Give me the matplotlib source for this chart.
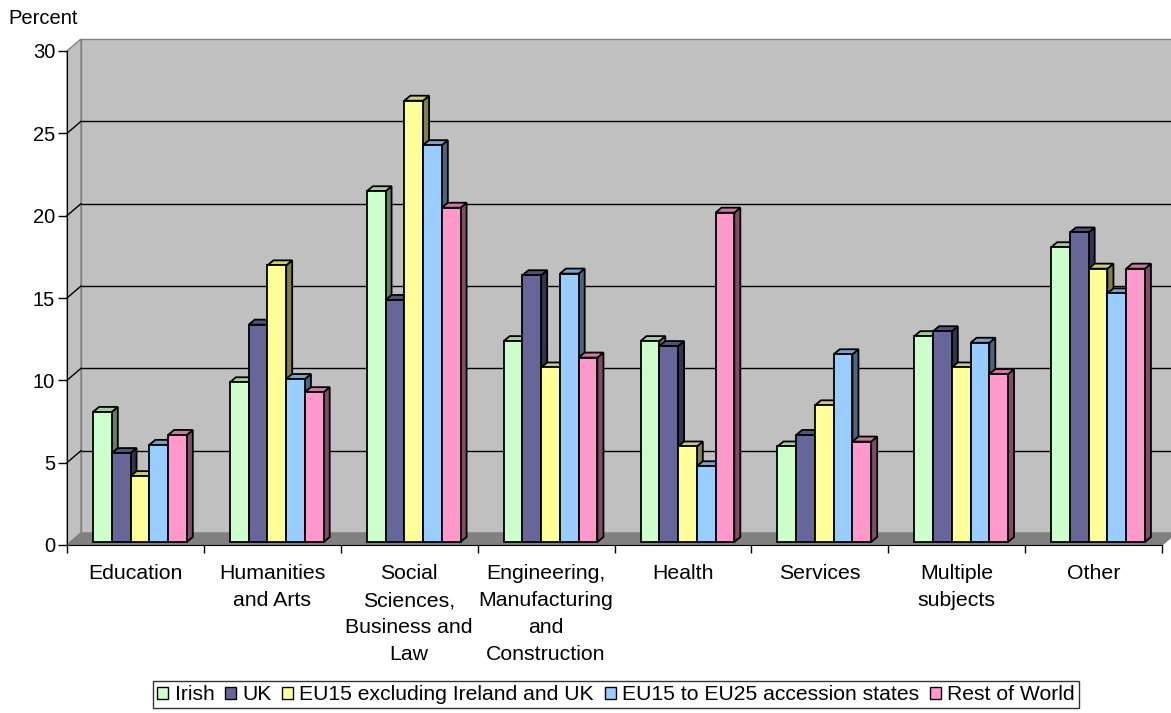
import matplotlib.pyplot as plt
from matplotlib.patches import Polygon, Patch
from matplotlib.colors import to_rgb
import numpy as np

plt.rcParams['font.family'] = ['Liberation Sans', 'DejaVu Sans']

categories = ["Education", "Humanities\nand Arts", "Social\nSciences,\nBusiness and\nLaw",
              "Engineering,\nManufacturing\nand\nConstruction", "Health", "Services",
              "Multiple\nsubjects", "Other"]
series = ["Irish", "UK", "EU15 excluding Ireland and UK",
          "EU15 to EU25 accession states", "Rest of World"]
irish = [7.9, 9.7, 21.3, 12.2, 12.2, 5.8, 12.5, 17.9]
uk = [5.4, 13.2, 14.7, 16.2, 11.9, 6.5, 12.8, 18.8]
eu15 = [4.0, 16.8, 26.8, 10.6, 5.8, 8.3, 10.6, 16.6]
accession = [5.9, 9.9, 24.1, 16.3, 4.6, 11.4, 12.1, 15.1]
rest = [6.5, 9.1, 20.3, 11.2, 20.0, 6.1, 10.2, 16.6]
colors = ["#CCFFCC", "#666699", "#FFFF99", "#99CCFF", "#FF99CC"]
values = [irish, uk, eu15, accession, rest]

W, H = 1171, 713
fig = plt.figure(figsize=(W / 100, H / 100), dpi=100)
L, R, T, B = 67, 1162, 51, 545
ax = fig.add_axes([L / W, 1 - B / H, (R - L) / W, (B - T) / H])
ax.set_xlim(-0.5, 7.5)
ax.set_ylim(0, 30)

# pixel -> data unit factors
kx = 8 / (R - L)
ky = 30 / (B - T)

# wall depth (full), bar offset and bar depth, in pixels
wdx, wdy = 14, 12
fdx, fdy = 4.5, 3
bdx, bdy = 6, 5


def poly(pts, fc, ec, z, lw=1.0):
    p = Polygon(pts, closed=True, facecolor=fc, edgecolor=ec, lw=lw,
                zorder=z, clip_on=False, joinstyle='miter')
    ax.add_patch(p)


ox, oy = wdx * kx, wdy * ky
# back wall, side wall and floor
poly([(-0.5 + ox, oy), (7.5 + ox, oy), (7.5 + ox, 30 + oy), (-0.5 + ox, 30 + oy)],
     "#C0C0C0", "#808080", 1)
poly([(-0.5, 0), (-0.5 + ox, oy), (-0.5 + ox, 30 + oy), (-0.5, 30)],
     "#C0C0C0", "#808080", 1)
poly([(-0.5, 0), (7.5, 0), (7.5 + ox, oy), (-0.5 + ox, oy)],
     "#808080", "#808080", 1.1)

# gridlines on the back and side walls
for v in range(5, 30, 5):
    ax.plot([-0.5 + ox, 7.5 + ox], [v + oy, v + oy], color="black", lw=1,
            zorder=2, clip_on=False, solid_capstyle='butt')
    ax.plot([-0.5, -0.5 + ox], [v, v + oy], color="black", lw=1,
            zorder=2, clip_on=False)

# 3D bars
bw = 0.137
n = len(series)
x = np.arange(len(categories))
for i in x:
    for j in range(n):
        v = values[j][i]
        base = np.array(to_rgb(colors[j]))
        x0 = i - n * bw / 2 + j * bw + fdx * kx
        x1 = x0 + bw
        y0 = fdy * ky
        y1 = y0 + v
        ddx, ddy = bdx * kx, bdy * ky
        z = 3 + i * 0.1 + j * 0.01
        poly([(x1, y0), (x1 + ddx, y0 + ddy), (x1 + ddx, y1 + ddy), (x1, y1)],
             base * 0.5, "black", z, 1.3)
        poly([(x0, y1), (x1, y1), (x1 + ddx, y1 + ddy), (x0 + ddx, y1 + ddy)],
             base * 0.8, "black", z, 1.3)
        poly([(x0, y0), (x1, y0), (x1, y1), (x0, y1)],
             base, "black", z + 0.005, 1.3)

# axes
for s in ["top", "right"]:
    ax.spines[s].set_visible(False)
ax.spines["left"].set_color("black")
ax.spines["bottom"].set_color("black")
ax.spines["left"].set_zorder(10)
ax.spines["bottom"].set_zorder(10)
ax.patch.set_visible(False)

ax.set_yticks(range(0, 31, 5))
ax.tick_params(axis="y", length=6.5, width=1, pad=2, labelsize=14.5)
ax.set_xticks(x)
ax.set_xticklabels(categories, fontsize=15.3, linespacing=1.52)
ax.set_xticks(np.arange(-0.5, 8, 1), minor=True)
ax.tick_params(axis="x", which="major", length=0, pad=14)
ax.tick_params(axis="x", which="minor", length=6, width=1)

fig.text(8 / W, 1 - 18 / H, "Percent", ha="left", va="center", fontsize=14.5)

handles = [Patch(facecolor=c, edgecolor="black", lw=1) for c in colors]
leg = fig.legend(handles, series, loc="upper center", bbox_to_anchor=(0.526, 1 - 681 / H),
                 ncol=5, fontsize=15.2, frameon=True, fancybox=False, edgecolor="black",
                 handlelength=0.52, handleheight=0.52, handletextpad=0.3,
                 columnspacing=0.5, borderpad=0.2, borderaxespad=0)
leg.get_frame().set_linewidth(1)

fig.savefig("out.png", dpi=100)
